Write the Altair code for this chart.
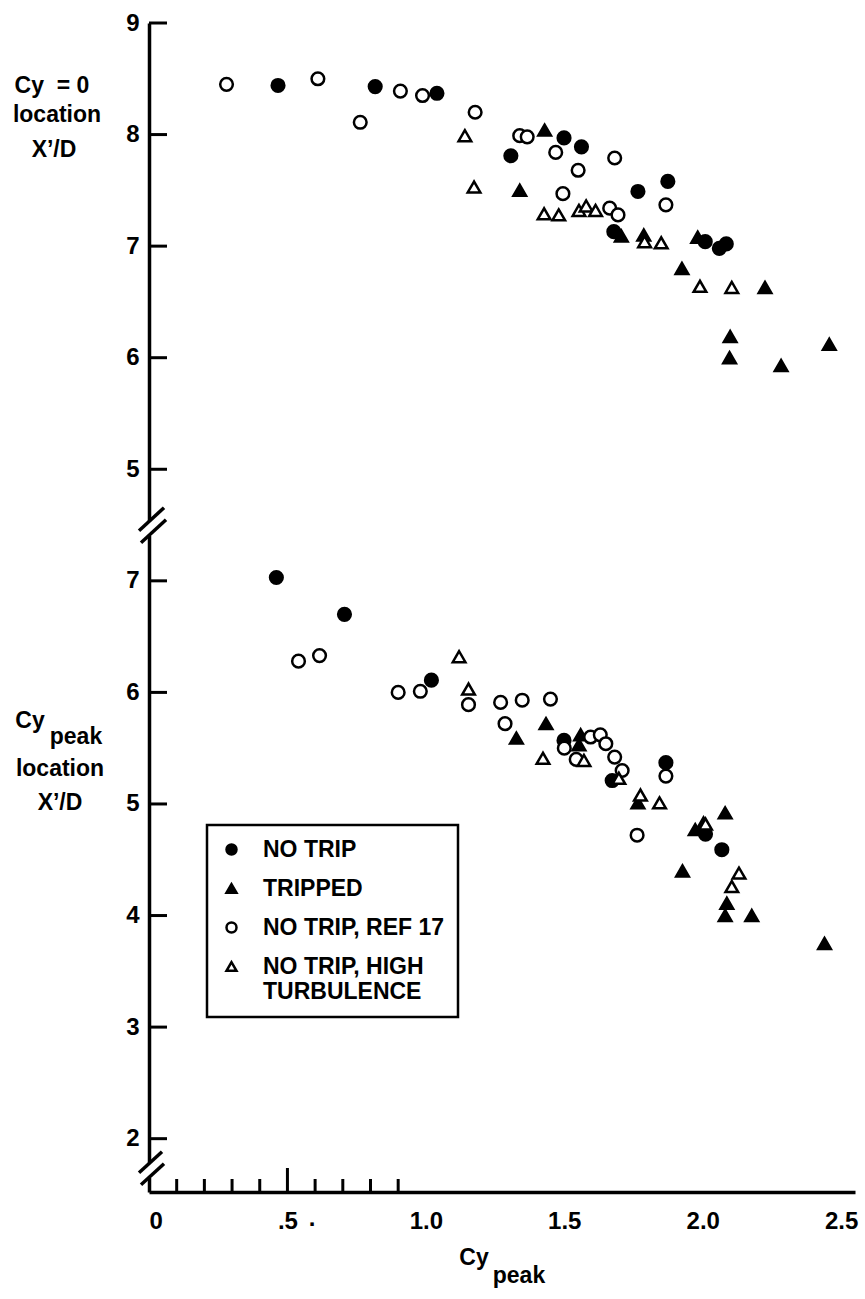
import altair as alt
import pandas as pd

# ---------------- data ----------------
SERIES = ["NO TRIP", "TRIPPED", "NO TRIP, REF 17", "NO TRIP, HIGH TURBULENCE"]

# Upper panel: Cy = 0 location X'/D
nt_up_x = [0.466, 0.817, 1.04, 1.307, 1.499, 1.562, 1.679, 1.766, 1.874, 2.009, 2.06, 2.085]
nt_up_y = [8.44, 8.43, 8.37, 7.81, 7.97, 7.89, 7.13, 7.49, 7.58, 7.04, 6.98, 7.02]
tr_up_x = [1.429, 1.339, 1.706, 1.787, 1.982, 1.925, 2.225, 2.099, 2.097, 2.283, 2.457]
tr_up_y = [8.04, 7.50, 7.09, 7.10, 7.08, 6.80, 6.63, 6.19, 6.00, 5.93, 6.12]
ref_up_x = [0.28, 0.61, 0.908, 0.988, 0.763, 1.178, 1.339, 1.366, 1.469, 1.495, 1.682, 1.55, 1.867, 1.664, 1.694]
ref_up_y = [8.45, 8.50, 8.39, 8.35, 8.11, 8.20, 7.99, 7.98, 7.84, 7.47, 7.79, 7.68, 7.37, 7.34, 7.28]
ht_up_x = [1.141, 1.174, 1.427, 1.48, 1.553, 1.579, 1.613, 1.79, 1.85, 1.99, 2.105]
ht_up_y = [7.99, 7.53, 7.29, 7.28, 7.32, 7.36, 7.32, 7.04, 7.03, 6.64, 6.63]

# Lower panel: Cy_peak location X'/D
nt_lo_x = [0.46, 0.706, 1.02, 1.499, 1.673, 1.867, 2.01, 2.069]
nt_lo_y = [7.03, 6.70, 6.11, 5.57, 5.21, 5.37, 4.73, 4.59]
tr_lo_x = [1.327, 1.434, 1.559, 1.553, 1.766, 2.081, 2.003, 1.973, 1.927, 2.087, 2.081, 2.177, 2.44]
tr_lo_y = [5.59, 5.72, 5.62, 5.53, 5.01, 4.92, 4.83, 4.77, 4.40, 4.11, 4.00, 4.00, 3.75]
ref_lo_x = [0.54, 0.616, 0.90, 0.98, 1.154, 1.27, 1.348, 1.45, 1.286, 1.5, 1.595, 1.63, 1.65,
            1.543, 1.682, 1.709, 1.867, 1.763]
ref_lo_y = [6.28, 6.33, 6.00, 6.01, 5.89, 5.91, 5.93, 5.94, 5.72, 5.50, 5.60, 5.62, 5.54,
            5.40, 5.42, 5.30, 5.25, 4.72]
ht_lo_x = [1.12, 1.154, 1.423, 1.571, 1.697, 1.775, 1.844, 2.01, 2.131, 2.105]
ht_lo_y = [6.32, 6.03, 5.41, 5.39, 5.23, 5.08, 5.01, 4.82, 4.38, 4.26]

# axis tick values
x_label_values = [0, 0.5, 1.0, 1.5, 2.0, 2.5]
x_minor_ticks = [0.1, 0.2, 0.3, 0.4, 0.6, 0.7, 0.8, 0.9]
x_major_tick = [0.5]
upper_ticks = [5, 6, 7, 8, 9]
lower_ticks = [2, 3, 4, 5, 6, 7]
LOWER_SHIFT = 3  # lower panel is drawn 3 units below the upper one on a shared axis

# ---------------- build tables ----------------
rows = []
for name, xs, ys in [(SERIES[0], nt_up_x, nt_up_y), (SERIES[1], tr_up_x, tr_up_y),
                     (SERIES[2], ref_up_x, ref_up_y), (SERIES[3], ht_up_x, ht_up_y)]:
    for x, y in zip(xs, ys):
        rows.append({"series": name, "x": x, "value": y, "u": y, "panel": "upper"})
for name, xs, ys in [(SERIES[0], nt_lo_x, nt_lo_y), (SERIES[1], tr_lo_x, tr_lo_y),
                     (SERIES[2], ref_lo_x, ref_lo_y), (SERIES[3], ht_lo_x, ht_lo_y)]:
    for x, y in zip(xs, ys):
        rows.append({"series": name, "x": x, "value": y, "u": y - LOWER_SHIFT, "panel": "lower"})
df = pd.DataFrame(rows)
order_map = {s: i for i, s in enumerate(SERIES)}
df["ord"] = df["series"].map(order_map)
df = df.sort_values("ord", kind="stable")

W, H = 706, 1169
XS = alt.Scale(domain=[0, 2.55], nice=False, zero=False)
YS = alt.Scale(domain=[-1.478, 9], nice=False, zero=False)
FONT = "Liberation Sans"

y_axis_vals = [v - LOWER_SHIFT for v in lower_ticks] + upper_ticks

points = alt.Chart(df).mark_point(
    filled=True, strokeWidth=2.5, size=160, opacity=1
).encode(
    x=alt.X("x:Q", scale=XS, axis=alt.Axis(
        values=x_label_values, ticks=False, grid=False, domainColor="black", domainWidth=3.5,
        labelFont=FONT, labelFontSize=24, labelFontWeight="bold", labelColor="black",
        labelPadding=17, title="",
        labelExpr="datum.value == 0 ? '0' : datum.value == 0.5 ? '.5' : format(datum.value, '.1f')")),
    y=alt.Y("u:Q", scale=YS, axis=alt.Axis(
        values=y_axis_vals, ticks=False, grid=False, domainColor="black", domainWidth=3.5,
        labelFont=FONT, labelFontSize=24, labelFontWeight="bold", labelColor="black",
        labelPadding=10, title="",
        labelExpr="'' + (datum.value >= 4.5 ? datum.value : datum.value + 3)")),
    shape=alt.Shape("series:N", scale=alt.Scale(domain=SERIES,
                    range=["circle", "triangle-up", "circle", "triangle-up"]),
                    title=None,
                    legend=alt.Legend(
                        orient="none", legendX=58, legendY=802, direction="vertical",
                        padding=13, strokeColor="black", fillColor="white",
                        labelFont=FONT, labelFontSize=23, labelFontWeight="bold",
                        labelColor="black", labelLimit=0, symbolSize=100,
                        symbolStrokeWidth=2.5,
                        rowPadding=15, labelOffset=20,
                        labelExpr="datum.label == 'NO TRIP, HIGH TURBULENCE' ? ['NO TRIP, HIGH', 'TURBULENCE'] : datum.label")),
    fill=alt.Fill("series:N", scale=alt.Scale(domain=SERIES,
                  range=["black", "black", "white", "white"]), title=None),
    stroke=alt.Stroke("series:N", scale=alt.Scale(domain=SERIES,
                      range=["black", "black", "black", "black"]), title=None),
    order=alt.Order("ord:Q"),
)

# inward y ticks
yt = pd.DataFrame({"u": y_axis_vals})
y_ticks = alt.Chart(yt).mark_rule(color="black", strokeWidth=3).encode(
    y=alt.Y("u:Q", scale=YS), x=alt.value(0), x2=alt.value(18))

# inward x ticks
xt = pd.DataFrame({"x": x_minor_ticks})
x_ticks = alt.Chart(xt).mark_rule(color="black", strokeWidth=3).encode(
    x=alt.X("x:Q", scale=XS), y=alt.value(H - 13), y2=alt.value(H))
xtm = pd.DataFrame({"x": x_major_tick})
x_tick_major = alt.Chart(xtm).mark_rule(color="black", strokeWidth=3).encode(
    x=alt.X("x:Q", scale=XS), y=alt.value(H - 24), y2=alt.value(H))

one = alt.Data(values=[{"k": 1}])


def gap(y1, y2):
    return alt.Chart(one).mark_rect(color="white").encode(
        x=alt.value(-5), x2=alt.value(5), y=alt.value(y1), y2=alt.value(y2))


def slash(x1, y1, x2, y2):
    return alt.Chart(one).mark_rule(color="black", strokeWidth=3.5).encode(
        x=alt.value(x1), y=alt.value(y1), x2=alt.value(x2), y2=alt.value(y2))


def label(t, x, y, size=23):
    return alt.Chart(alt.Data(values=[{"t": t}])).mark_text(
        font=FONT, fontSize=size, fontWeight="bold", color="black",
        align="center", baseline="middle").encode(
        text="t:N", x=alt.value(x), y=alt.value(y))


decor = [
    gap(498, 513), slash(-10, 507.7, 15, 484.7), slash(-8, 519.7, 17, 496.7),
    gap(1140, 1155), slash(-10, 1149.7, 13, 1128.7), slash(-8, 1161.7, 15, 1140.7),
    label("Cy\u00a0\u00a0= 0", -97, 62.7), label("location", -92, 91.7), label("X\u2019/D", -95, 126.7),
    label("Cy", -119, 697.7), label("peak", -73, 713.7),
    label("location", -89, 745.7), label("X\u2019/D", -89, 779.7),
    label("Cy", 325, 1234.7), label("peak", 370, 1252.7),
    label(".", 163, 1196, 24),
]

chart = alt.layer(points, y_ticks, x_ticks, x_tick_major, *decor).properties(
    width=W, height=H,
    autosize=alt.AutoSizeParams(type="none"),
    padding={"left": 149, "top": 23, "right": 10, "bottom": 107},
    background="white",
).configure_view(stroke=None).configure_legend(strokeWidth=2.5)

chart.save("out.html", embed_options={"renderer": "svg", "actions": False})
